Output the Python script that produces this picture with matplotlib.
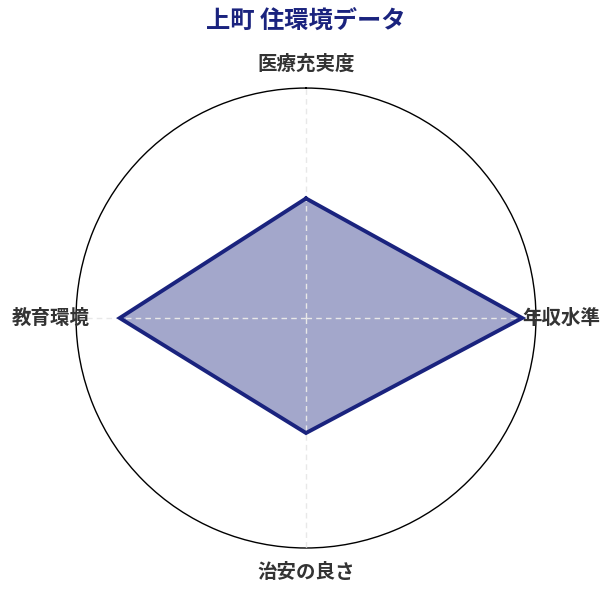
import numpy as np
import matplotlib
matplotlib.use("Agg")
import matplotlib.pyplot as plt

plt.rcParams['font.family'] = ['Noto Sans CJK JP', 'DejaVu Sans']

# data
categories = ['医療充実度', '年収水準', '治安の良さ', '教育環境']
values = [52, 94, 50, 81]
r_max = 100
title = '上町 住環境データ'

navy = '#1a237e'

fig = plt.figure(figsize=(6.12, 5.95), dpi=100)
ax = fig.add_axes([0.1242, 0.079, 0.7516, 0.773], projection='polar')
ax.set_theta_offset(np.pi / 2)
ax.set_theta_direction(-1)
ax.set_ylim(0, r_max)

angles = np.linspace(0, 2 * np.pi, len(categories), endpoint=False)
closed_a = np.append(angles, angles[0])
closed_v = np.append(values, values[0])

ax.fill(closed_a, closed_v, color=navy, alpha=0.4, zorder=2, lw=0)
ax.plot(closed_a, closed_v, color=navy, lw=2.8, zorder=4, solid_joinstyle='miter')

# spokes
for a in angles:
    ax.plot([a, a], [0, r_max], color='#e8e8e8', lw=1, ls=(0, (4, 3)), zorder=3)

ax.grid(False)
ax.set_xticks([])
ax.set_yticks([])
ax.spines['polar'].set_color('black')
ax.spines['polar'].set_linewidth(1)

# axis labels
label_pos = [(106, 'center', 'bottom'), (94, 'left', 'center'),
             (106.5, 'center', 'top'), (94, 'right', 'center')]
for a, name, (r, ha, va) in zip(angles, categories, label_pos):
    ax.text(a, r, name, ha=ha, va=va, fontsize=14, fontweight='bold',
            color='#333333', clip_on=False)

fig.text(0.5, 0.963, title, ha='center', va='center', fontsize=17.5,
         fontweight='bold', color=navy)

fig.savefig('out.png', dpi=100)
